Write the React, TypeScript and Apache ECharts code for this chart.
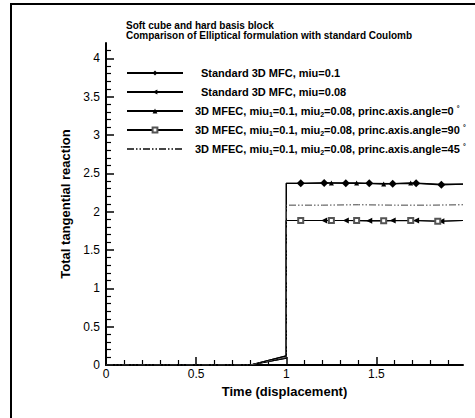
import React, { useEffect, useRef } from "react";
import * as echarts from "echarts";

const TITLE = "Soft cube and hard basis block\nComparison of Elliptical formulation with standard Coulomb";
const X_NAME = "Time (displacement)";
const Y_NAME = "Total tangential reaction";

const X_MAJOR = [0, 0.5, 1, 1.5];
const X_MINOR = [0.1, 0.2, 0.3, 0.4, 0.6, 0.7, 0.8, 0.9, 1.1, 1.2, 1.3, 1.4, 1.6, 1.7, 1.8, 1.9];
const Y_MAJOR = [0, 0.5, 1, 1.5, 2, 2.5, 3, 3.5, 4];
const Y_MINOR = [0.1, 0.2, 0.3, 0.4, 0.6, 0.7, 0.8, 0.9, 1.1, 1.2, 1.3, 1.4, 1.6, 1.7, 1.8, 1.9, 2.1, 2.2, 2.3, 2.4, 2.6, 2.7, 2.8, 2.9, 3.1, 3.2, 3.3, 3.4, 3.6, 3.7, 3.8, 3.9, 4.1];

// Series 1: Standard 3D MFC, miu=0.1 (diamonds)
const s1X = [0, 0.8, 1.0, 1.0, 1.08, 1.21, 1.33, 1.46, 1.59, 1.72, 1.86, 1.98];
const s1Y = [0, 0, 0.12, 2.37, 2.37, 2.375, 2.37, 2.37, 2.365, 2.37, 2.35, 2.36];
const s1Marks = [1.08, 1.21, 1.33, 1.46, 1.59, 1.72, 1.86];

// Series 2: Standard 3D MFC, miu=0.08 (left triangles)
const s2X = [0, 0.8, 1.0, 1.0, 1.08, 1.21, 1.33, 1.46, 1.59, 1.72, 1.86, 1.98];
const s2Y = [0, 0, 0.09, 1.885, 1.885, 1.885, 1.885, 1.88, 1.885, 1.885, 1.875, 1.885];
const s2Marks = [1.21, 1.33, 1.46, 1.59, 1.72, 1.86];

// Series 3: 3D MFEC angle=0 (triangles)
const s3X = [0, 0.8, 1.0, 1.0, 1.1, 1.25, 1.39, 1.54, 1.69, 1.84, 1.98];
const s3Y = [0, 0, 0.12, 2.37, 2.37, 2.375, 2.375, 2.36, 2.375, 2.36, 2.36];
const s3Marks = [1.25, 1.39, 1.54, 1.69];

// Series 4: 3D MFEC angle=90 (squares)
const s4X = [0, 0.8, 1.0, 1.0, 1.08, 1.25, 1.39, 1.54, 1.69, 1.84, 1.98];
const s4Y = [0, 0, 0.09, 1.885, 1.885, 1.885, 1.885, 1.88, 1.885, 1.875, 1.885];
const s4Marks = [1.08, 1.25, 1.39, 1.54, 1.69, 1.84];

// Series 5: 3D MFEC angle=45 (dash-dot-dot)
const s5X = [0, 0.8, 1.0, 1.0, 1.2, 1.4, 1.6, 1.8, 1.98];
const s5Y = [0, 0, 0.1, 2.085, 2.085, 2.09, 2.085, 2.085, 2.09];

const NAMES = [
  "Standard 3D MFC, miu=0.1",
  "Standard 3D MFC, miu=0.08",
  "3D MFEC, miu{s|1}=0.1, miu{s|2}=0.08, princ.axis.angle=0 {d|°}",
  "3D MFEC, miu{s|1}=0.1, miu{s|2}=0.08, princ.axis.angle=90 {d|°}",
  "3D MFEC, miu{s|1}=0.1, miu{s|2}=0.08, princ.axis.angle=45 {d|°}",
];
const SERIES_IDS = ["s1", "s2", "s3", "s4", "s5"];

const FONT = "Liberation Sans";

function build(xs: number[], ys: number[], marks: number[]) {
  return xs.map((x, i) => {
    const isMark = marks.indexOf(x) >= 0 && i > 3;
    return isMark ? { value: [x, ys[i]] } : { value: [x, ys[i]], symbolSize: 0 };
  });
}

export default function App() {
  const ref = useRef<HTMLDivElement>(null);
  useEffect(() => {
    if (!ref.current) return;
    const chart = echarts.init(ref.current, undefined, { renderer: "svg" });
    const lineBase = { color: "#000", width: 1.2 };
    const common = {
      type: "line",
      xAxisIndex: 0,
      yAxisIndex: 0,
      showSymbol: true,
      showAllSymbol: true,
      itemStyle: { color: "#000" },
      z: 3,
    };
    const rich = {
      s: { fontSize: 7, fontWeight: "bold", fontFamily: FONT, padding: [7, 0, 0, 0], color: "#000" },
      d: { fontSize: 7, fontFamily: FONT, padding: [0, 0, 6, 0], color: "#000" },
    };
    chart.setOption({
      animation: false,
      backgroundColor: "#fff",
      title: {
        text: TITLE,
        left: 126,
        top: 20,
        padding: 0,
        textStyle: { fontFamily: FONT, fontSize: 10, fontWeight: "bold", lineHeight: 10, color: "#000" },
      },
      graphic: [
        {
          type: "rect",
          shape: { x: 11, y: 4, width: 700, height: 700 },
          style: { fill: "none", stroke: "#000", lineWidth: 2 },
          silent: true,
        },
      ],
      legend: {
        orient: "vertical",
        left: 126,
        top: 66,
        padding: 0,
        itemWidth: 56,
        itemHeight: 6,
        itemGap: 5,
        textStyle: { fontFamily: FONT, fontSize: 11, fontWeight: "bold", color: "#000", lineHeight: 14, rich },
        data: NAMES.map((n, i) => ({
          name: n,
          textStyle: { padding: [0, 0, 0, i < 2 ? 13 : 7] },
          ...(i === 4 ? { itemStyle: { opacity: 0 } } : {}),
        })),
        formatter: (n: string) => n,
      },
      grid: { left: 106, right: 12, top: 43, bottom: 53 },
      xAxis: [
        {
          type: "value",
          min: 0,
          max: 1.98,
          name: X_NAME,
          nameLocation: "middle",
          nameGap: 16,
          nameTextStyle: { fontFamily: FONT, fontSize: 13, fontWeight: "bold", color: "#000" },
          axisLine: { show: true, lineStyle: { color: "#000", width: 2 } },
          axisTick: { show: true, inside: true, length: 8, customValues: X_MAJOR, lineStyle: { color: "#000", width: 1.5 } },
          axisLabel: { customValues: X_MAJOR, margin: 3, fontFamily: FONT, fontSize: 12, color: "#000" },
          splitLine: { show: false },
        },
        {
          type: "value",
          min: 0,
          max: 1.98,
          position: "bottom",
          offset: 0,
          axisLine: { show: false },
          axisTick: { show: true, inside: true, length: 5, customValues: X_MINOR, lineStyle: { color: "#000", width: 1.2 } },
          axisLabel: { show: false },
          splitLine: { show: false },
        },
      ],
      yAxis: [
        {
          type: "value",
          min: 0,
          max: 4.2,
          name: Y_NAME,
          nameLocation: "middle",
          nameGap: 21,
          nameTextStyle: { fontFamily: FONT, fontSize: 13, fontWeight: "bold", color: "#000" },
          axisLine: { show: true, lineStyle: { color: "#000", width: 2 } },
          axisTick: { show: true, inside: true, length: 8, customValues: Y_MAJOR, lineStyle: { color: "#000", width: 1.5 } },
          axisLabel: { customValues: Y_MAJOR, margin: 6, fontFamily: FONT, fontSize: 12, color: "#000" },
          splitLine: { show: false },
        },
        {
          type: "value",
          min: 0,
          max: 4.2,
          position: "left",
          offset: 0,
          axisLine: { show: false },
          axisTick: { show: true, inside: true, length: 5, customValues: Y_MINOR, lineStyle: { color: "#000", width: 1.2 } },
          axisLabel: { show: false },
          splitLine: { show: false },
        },
      ],
      series: [
        {
          ...common,
          id: SERIES_IDS[0],
          name: NAMES[0],
          symbol: "diamond",
          symbolSize: 8,
          lineStyle: { ...lineBase },
          data: build(s1X, s1Y, s1Marks),
        },
        {
          ...common,
          id: SERIES_IDS[1],
          name: NAMES[1],
          symbol: "triangle",
          symbolRotate: 90,
          symbolSize: 6,
          lineStyle: { ...lineBase },
          data: build(s2X, s2Y, s2Marks),
        },
        {
          ...common,
          id: SERIES_IDS[2],
          name: NAMES[2],
          symbol: "triangle",
          symbolSize: 5,
          lineStyle: { ...lineBase },
          data: build(s3X, s3Y, s3Marks),
        },
        {
          ...common,
          id: SERIES_IDS[3],
          name: NAMES[3],
          symbol: "emptyRect",
          symbolSize: 5,
          itemStyle: { color: "#555", borderColor: "#333", borderWidth: 1 },
          lineStyle: { ...lineBase },
          data: build(s4X, s4Y, s4Marks),
        },
        {
          ...common,
          id: SERIES_IDS[4],
          name: NAMES[4],
          symbol: "none",
          lineStyle: { color: "#444", width: 1, type: [7, 2, 1.5, 2, 1.5, 2] },
          data: build(s5X, s5Y, []),
        },
      ],
    });
    return () => chart.dispose();
  }, []);
  return <div ref={ref} style={{ position: "fixed", left: 0, top: 0, width: 475, height: 418 }} />;
}
